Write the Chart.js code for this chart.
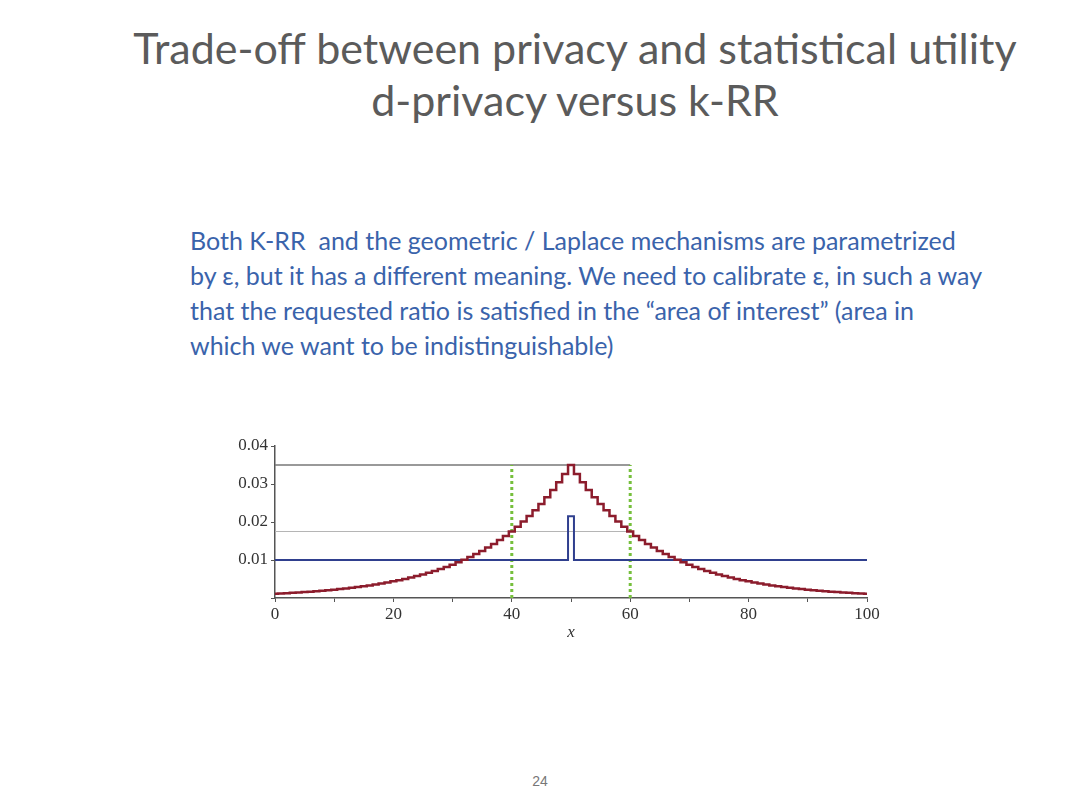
<!DOCTYPE html>
<html>
<head>
<meta charset="utf-8">
<script src="https://cdn.jsdelivr.net/npm/chart.js@4"></script>
<style>
  html, body { margin: 0; padding: 0; background: #fff; }
  body { width: 1080px; height: 809px; position: relative; overflow: hidden; }
  .title {
    position: absolute; left: 75px; top: 22px; width: 1000px;
    text-align: center; font-family: Lato, sans-serif; font-size: 43px;
    line-height: 52px; color: #5b5b5b;
  }
  .body-text {
    position: absolute; left: 190px; top: 223px; white-space: pre;
    font-family: Lato, sans-serif; font-size: 25px; line-height: 35px; color: #3a63ab;
  }
  .page-no {
    position: absolute; left: 0; width: 1080px; top: 773px; text-align: center;
    font-family: "Liberation Sans", sans-serif; font-size: 14px; color: #777;
  }
  #wrap { position: absolute; left: 200px; top: 420px; width: 720px; height: 240px; }
</style>
</head>
<body>
<div class="title">Trade-off between privacy and statistical utility<br>d-privacy versus k-RR</div>
<div class="body-text">Both K-RR  and the geometric / Laplace mechanisms are parametrized
by ε, but it has a different meaning. We need to calibrate ε, in such a way
that the requested ratio is satisfied in the “area of interest” (area in
which we want to be indistinguishable)</div>
<div class="page-no">24</div>
<div id="wrap"><canvas id="my-privacy-chart"></canvas></div>
<script>
// x positions 0..100
var xValues = [0,1,2,3,4,5,6,7,8,9,
  10,11,12,13,14,15,16,17,18,19,
  20,21,22,23,24,25,26,27,28,29,
  30,31,32,33,34,35,36,37,38,39,
  40,41,42,43,44,45,46,47,48,49,
  50,51,52,53,54,55,56,57,58,59,
  60,61,62,63,64,65,66,67,68,69,
  70,71,72,73,74,75,76,77,78,79,
  80,81,82,83,84,85,86,87,88,89,
  90,91,92,93,94,95,96,97,98,99,100];

// geometric mechanism (red steps)
var geometricValues = [0.00109,0.00117,0.00126,0.00135,0.00144,0.00155,0.00166,0.00178,0.00190,0.00204,
  0.00219,0.00235,0.00251,0.00269,0.00289,0.00309,0.00332,0.00355,0.00381,0.00408,
  0.00438,0.00469,0.00503,0.00539,0.00577,0.00619,0.00663,0.00711,0.00762,0.00816,
  0.00875,0.00938,0.01005,0.01077,0.01155,0.01237,0.01326,0.01422,0.01524,0.01633,
  0.01750,0.01876,0.02010,0.02155,0.02309,0.02475,0.02653,0.02843,0.03047,0.03266,
  0.03500,
  0.03266,0.03047,0.02843,0.02653,0.02475,0.02309,0.02155,0.02010,0.01876,0.01750,
  0.01633,0.01524,0.01422,0.01326,0.01237,0.01155,0.01077,0.01005,0.00938,0.00875,
  0.00816,0.00762,0.00711,0.00663,0.00619,0.00577,0.00539,0.00503,0.00469,0.00438,
  0.00408,0.00381,0.00355,0.00332,0.00309,0.00289,0.00269,0.00251,0.00235,0.00219,
  0.00204,0.00190,0.00178,0.00166,0.00155,0.00144,0.00135,0.00126,0.00117,0.00109];

// k-RR (blue)
var krrValues = [0.01,0.01,0.01,0.01,0.01,0.01,0.01,0.01,0.01,0.01,
  0.01,0.01,0.01,0.01,0.01,0.01,0.01,0.01,0.01,0.01,
  0.01,0.01,0.01,0.01,0.01,0.01,0.01,0.01,0.01,0.01,
  0.01,0.01,0.01,0.01,0.01,0.01,0.01,0.01,0.01,0.01,
  0.01,0.01,0.01,0.01,0.01,0.01,0.01,0.01,0.01,0.01,
  0.0215,
  0.01,0.01,0.01,0.01,0.01,0.01,0.01,0.01,0.01,0.01,
  0.01,0.01,0.01,0.01,0.01,0.01,0.01,0.01,0.01,0.01,
  0.01,0.01,0.01,0.01,0.01,0.01,0.01,0.01,0.01,0.01,
  0.01,0.01,0.01,0.01,0.01,0.01,0.01,0.01,0.01,0.01,
  0.01,0.01,0.01,0.01,0.01,0.01,0.01,0.01,0.01,0.01];

// area of interest and reference levels
var areaX = [40, 60];
var refLineX = [0, 60];
var peakLevel = 0.035;
var boundaryLevel = 0.0175;

function toPoints(xs, ys) {
  return xs.map(function (x, i) { return { x: x, y: ys[i] }; });
}

let privacyChart = new Chart("my-privacy-chart", {
  type: "line",
  data: {
    datasets: [
      {
        label: "geometric",
        data: toPoints(xValues, geometricValues),
        stepped: "middle",
        borderColor: "#8c1c2c",
        borderWidth: 2.5,
        pointRadius: 0,
        order: 1
      },
      {
        label: "k-RR",
        data: toPoints(xValues, krrValues),
        stepped: "middle",
        borderColor: "#2f3f8e",
        borderWidth: 2,
        pointRadius: 0,
        order: 2
      },
      {
        label: "left bound",
        data: [{ x: areaX[0], y: 0 }, { x: areaX[0], y: peakLevel }],
        borderColor: "#76bf3c",
        borderWidth: 3,
        borderDash: [3, 3],
        pointRadius: 0,
        order: 3
      },
      {
        label: "right bound",
        data: [{ x: areaX[1], y: 0 }, { x: areaX[1], y: peakLevel }],
        borderColor: "#76bf3c",
        borderWidth: 3,
        borderDash: [3, 3],
        pointRadius: 0,
        order: 3
      },
      {
        label: "peak level",
        data: [{ x: refLineX[0], y: peakLevel }, { x: refLineX[1], y: peakLevel }],
        borderColor: "#777",
        borderWidth: 1.3,
        pointRadius: 0,
        order: 4
      },
      {
        label: "boundary level",
        data: [{ x: refLineX[0], y: boundaryLevel }, { x: refLineX[1], y: boundaryLevel }],
        borderColor: "#b5b5b5",
        borderWidth: 1,
        pointRadius: 0,
        order: 4
      }
    ]
  },
  options: {
    responsive: true,
    maintainAspectRatio: false,
    animation: false,
    layout: { padding: { left: 0, top: 26, right: 53, bottom: 13 } },
    plugins: {
      legend: { display: false },
      tooltip: { enabled: false }
    },
    scales: {
      x: {
        type: "linear",
        min: 0,
        max: 100,
        afterFit: function (scale) { scale.height = 49; },
        border: { display: true, color: "#555", width: 1.5 },
        grid: { drawOnChartArea: false, drawTicks: true, tickLength: 4, color: "#555" },
        ticks: {
          stepSize: 10,
          autoSkip: false,
          maxRotation: 0,
          padding: 2,
          color: "#333",
          font: { family: "Liberation Serif", size: 17 },
          callback: function (v) { return v % 20 === 0 ? v : ""; }
        },
        title: {
          display: true,
          text: "x",
          color: "#333",
          font: { family: "Liberation Serif", size: 17, style: "italic" }
        }
      },
      y: {
        min: 0,
        max: 0.04,
        afterFit: function (scale) { scale.width = 75; },
        border: { display: true, color: "#555", width: 1.5 },
        grid: { drawOnChartArea: false, drawTicks: true, tickLength: 4, color: "#555" },
        ticks: {
          stepSize: 0.01,
          padding: 3,
          color: "#333",
          font: { family: "Liberation Serif", size: 17 },
          callback: function (v) { return v === 0 ? "" : v.toFixed(2); }
        }
      }
    }
  }
});
</script>
</body>
</html>
